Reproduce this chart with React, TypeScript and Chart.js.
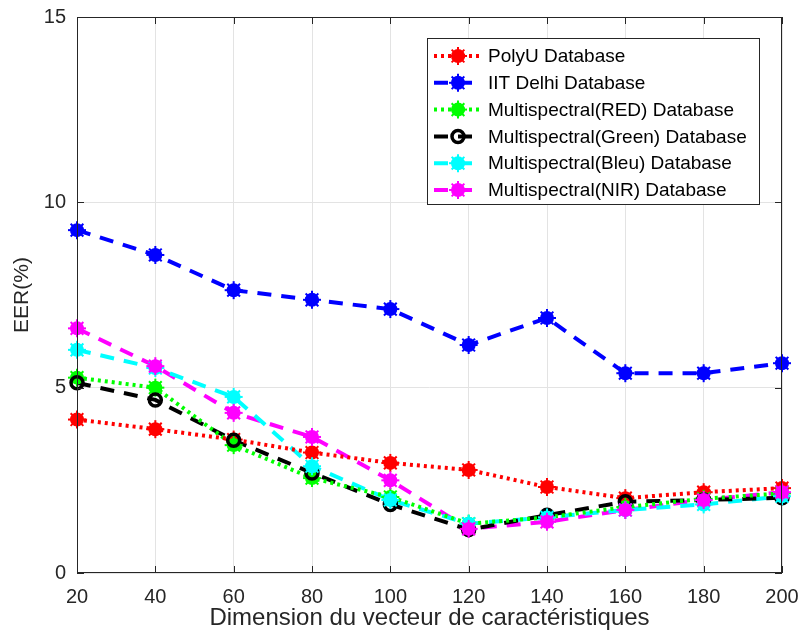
import React, { useEffect, useRef } from "react";
import { Chart, registerables } from "chart.js";

Chart.register(...registerables);

const dims = [20, 40, 60, 80, 100, 120, 140, 160, 180, 200];
const polyU = [4.14, 3.88, 3.6, 3.25, 2.97, 2.78, 2.32, 2.02, 2.18, 2.29];
const iitDelhi = [9.25, 8.58, 7.63, 7.37, 7.12, 6.15, 6.88, 5.39, 5.39, 5.66];
const msRed = [5.27, 5.0, 3.45, 2.56, 2.05, 1.33, 1.5, 1.78, 2.0, 2.15];
const msGreen = [5.13, 4.67, 3.58, 2.7, 1.85, 1.17, 1.56, 1.92, 1.97, 2.03];
const msBleu = [6.02, 5.53, 4.75, 2.88, 1.97, 1.33, 1.5, 1.7, 1.85, 2.07];
const msNir = [6.6, 5.58, 4.32, 3.67, 2.5, 1.19, 1.38, 1.7, 1.97, 2.18];

const xTicks = [20, 40, 60, 80, 100, 120, 140, 160, 180, 200];
const yTicks = [0, 5, 10, 15];

const FONT = "'Liberation Sans', Arial, Helvetica, sans-serif";

type SeriesDef = {
  label: string;
  values: number[];
  color: string;
  dash: number[];
  marker: "star" | "ring";
};

const series: SeriesDef[] = [
  { label: "PolyU Database", values: polyU, color: "#ff0000", dash: [3, 4], marker: "star" },
  { label: "IIT Delhi Database", values: iitDelhi, color: "#0000ff", dash: [14, 10], marker: "star" },
  { label: "Multispectral(RED) Database", values: msRed, color: "#00ff00", dash: [3, 4], marker: "star" },
  { label: "Multispectral(Green) Database", values: msGreen, color: "#000000", dash: [14, 10], marker: "ring" },
  { label: "Multispectral(Bleu) Database", values: msBleu, color: "#00ffff", dash: [14, 10], marker: "star" },
  { label: "Multispectral(NIR) Database", values: msNir, color: "#ff00ff", dash: [14, 10], marker: "star" },
];

function drawMarker(ctx: CanvasRenderingContext2D, s: SeriesDef, x: number, y: number) {
  ctx.save();
  ctx.setLineDash([]);
  if (s.marker === "ring") {
    ctx.strokeStyle = s.color;
    ctx.lineWidth = 3.5;
    ctx.beginPath();
    ctx.arc(x, y, 6, 0, Math.PI * 2);
    ctx.stroke();
  } else {
    ctx.fillStyle = s.color;
    ctx.beginPath();
    ctx.arc(x, y, 7, 0, Math.PI * 2);
    ctx.fill();
    ctx.strokeStyle = s.color;
    ctx.lineWidth = 2;
    ctx.lineCap = "square";
    for (let i = 0; i < 4; i++) {
      const a = (i * Math.PI) / 4;
      ctx.beginPath();
      ctx.moveTo(x - Math.cos(a) * 8, y - Math.sin(a) * 8);
      ctx.lineTo(x + Math.cos(a) * 8, y + Math.sin(a) * 8);
      ctx.stroke();
    }
  }
  ctx.restore();
}

// Drop the extra room Chart.js reserves for overhanging edge tick labels,
// so the plot area is fixed by the layout padding alone.
function noEdgePadding(axis: any) {
  axis.paddingLeft = 0;
  axis.paddingRight = 0;
  axis.paddingTop = 0;
  axis.paddingBottom = 0;
}

const framePlugin = {
  id: "frame",
  afterDatasetsDraw(chart: any) {
    const { ctx, chartArea, scales } = chart;
    const { left, right, top, bottom } = chartArea;
    // markers on top of the lines
    series.forEach((s, di) => {
      const meta = chart.getDatasetMeta(di);
      meta.data.forEach((pt: any) => drawMarker(ctx, s, pt.x, pt.y));
    });
    // axes box with inward ticks
    ctx.save();
    ctx.strokeStyle = "#262626";
    ctx.lineWidth = 1;
    ctx.setLineDash([]);
    ctx.strokeRect(left + 0.5, top + 0.5, right - left - 1, bottom - top - 1);
    const tl = 7;
    xTicks.forEach((v) => {
      const x = Math.round(scales.x.getPixelForValue(v)) + 0.5;
      ctx.beginPath();
      ctx.moveTo(x, bottom);
      ctx.lineTo(x, bottom - tl);
      ctx.moveTo(x, top);
      ctx.lineTo(x, top + tl);
      ctx.stroke();
    });
    yTicks.forEach((v) => {
      const y = Math.round(scales.y.getPixelForValue(v)) + 0.5;
      ctx.beginPath();
      ctx.moveTo(left, y);
      ctx.lineTo(left + tl, y);
      ctx.moveTo(right, y);
      ctx.lineTo(right - tl, y);
      ctx.stroke();
    });
    ctx.restore();
  },
  afterDraw(chart: any) {
    const { ctx } = chart;
    const bx = 427, by = 38, bw = 332, bh = 166;
    ctx.save();
    ctx.fillStyle = "#ffffff";
    ctx.fillRect(bx, by, bw, bh);
    ctx.strokeStyle = "#262626";
    ctx.lineWidth = 1;
    ctx.strokeRect(bx + 0.5, by + 0.5, bw, bh);
    ctx.font = `19px ${FONT}`;
    ctx.textBaseline = "middle";
    series.forEach((s, i) => {
      const y = 56 + i * 26.8;
      ctx.strokeStyle = s.color;
      ctx.lineWidth = 4;
      ctx.setLineDash(s.dash);
      ctx.beginPath();
      ctx.moveTo(434, y);
      ctx.lineTo(482, y);
      ctx.stroke();
      drawMarker(ctx, s, 458, y);
      ctx.fillStyle = "#000000";
      ctx.fillText(s.label, 488, y + 1);
    });
    ctx.restore();
  },
};

export default function App() {
  const ref = useRef<HTMLCanvasElement>(null);
  useEffect(() => {
    if (!ref.current) return;
    const chart = new Chart(ref.current, {
      type: "line",
      data: {
        datasets: series.map((s) => ({
          label: s.label,
          data: dims.map((d, i) => ({ x: d, y: s.values[i] })),
          borderColor: s.color,
          backgroundColor: s.color,
          borderWidth: 4,
          borderDash: s.dash,
          pointRadius: 0,
          pointHoverRadius: 0,
          tension: 0,
          fill: false,
        })),
      },
      options: {
        animation: false,
        responsive: false,
        maintainAspectRatio: false,
        events: [],
        layout: { padding: { top: 17, right: 17, left: 0, bottom: 0 } },
        plugins: {
          legend: { display: false },
          tooltip: { enabled: false },
        },
        scales: {
          x: {
            type: "linear",
            min: 20,
            max: 200,
            afterBuildTicks: (axis: any) => {
              axis.ticks = xTicks.map((v) => ({ value: v }));
            },
            afterFit: (axis: any) => {
              axis.height = 68;
              noEdgePadding(axis);
            },
            grid: { color: "#e3e3e3", lineWidth: 1, drawTicks: false },
            border: { display: false },
            ticks: {
              color: "#262626",
              font: { family: FONT, size: 20 },
              padding: 12,
              maxRotation: 0,
            },
            title: {
              display: true,
              text: "Dimension du vecteur de caractéristiques",
              color: "#262626",
              font: { family: FONT, size: 24 },
              padding: { top: 0, bottom: 8 },
            },
          },
          y: {
            type: "linear",
            min: 0,
            max: 15,
            afterBuildTicks: (axis: any) => {
              axis.ticks = yTicks.map((v) => ({ value: v }));
            },
            afterFit: (axis: any) => {
              axis.width = 77;
              noEdgePadding(axis);
            },
            grid: { color: "#e3e3e3", lineWidth: 1, drawTicks: false },
            border: { display: false },
            ticks: {
              color: "#262626",
              font: { family: FONT, size: 20 },
              padding: 11,
            },
            title: {
              display: true,
              text: "EER(%)",
              color: "#262626",
              font: { family: FONT, size: 21 },
              padding: { top: 10, bottom: 0 },
            },
          },
        },
      },
      plugins: [framePlugin],
    });
    return () => chart.destroy();
  }, []);
  return (
    <div style={{ position: "fixed", left: 0, top: 0, width: 799, height: 641, background: "#fff" }}>
      <canvas ref={ref} width={799} height={641} style={{ display: "block" }} />
    </div>
  );
}
